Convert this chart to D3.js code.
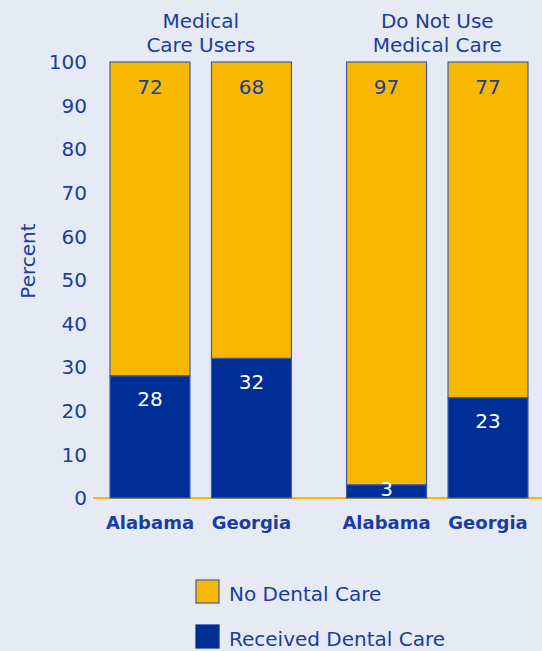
<!DOCTYPE html>
<html>
<head>
<meta charset="utf-8">
<script src="https://cdn.jsdelivr.net/npm/d3@7"></script>
<style>
  html, body { margin: 0; padding: 0; background: #e6eaf5; }
  svg { display: block; font-family: 'DejaVu Sans', sans-serif; }
</style>
</head>
<body>
<div class="chart"></div>
<script>
const groups = ['Medical Care Users', 'Do Not Use Medical Care'];
const groupTitles = [['Medical', 'Care Users'], ['Do Not Use', 'Medical Care']];
const states = ['Alabama', 'Georgia'];
const received = [28, 32, 3, 23];
const noCare = [72, 68, 97, 77];
const yTicks = [0, 10, 20, 30, 40, 50, 60, 70, 80, 90, 100];
const legendLabels = ['No Dental Care', 'Received Dental Care'];

const width = 542;
const height = 651;
const orange = '#f9b800';
const blue = '#002e97';
const textBlue = '#1a3d9e';

const svg = d3.select('.chart')
  .append('svg')
  .attr('width', width)
  .attr('height', height);

const y = d3.scaleLinear([0, 100], [498, 62]);

// outer band = group, inner band = state
const x0 = d3.scaleBand()
  .domain(groups)
  .range([110, 528])
  .paddingInner(0.233)
  .paddingOuter(0);
const x1 = d3.scaleBand()
  .domain(states)
  .range([0, x0.bandwidth()])
  .paddingInner(0.212)
  .paddingOuter(0);

const data = [];
groups.forEach((g, gi) => {
  states.forEach((s, si) => {
    const i = gi * 2 + si;
    data.push({ group: g, state: s, received: received[i], none: noCare[i] });
  });
});
const bx = (d) => x0(d.group) + x1(d.state);

// baseline
svg.append('line')
  .attr('x1', 93).attr('x2', width)
  .attr('y1', y(0)).attr('y2', y(0))
  .attr('stroke', orange)
  .attr('stroke-width', 2);

// y axis labels
svg.append('g')
  .attr('fill', textBlue)
  .style('font-size', '20px')
  .attr('text-anchor', 'end')
  .selectAll('text')
  .data(yTicks)
  .join('text')
  .attr('x', 87)
  .attr('y', (d) => y(d))
  .attr('dy', '0.36em')
  .text((d) => d);

svg.append('text')
  .attr('transform', 'translate(35,261) rotate(-90)')
  .attr('text-anchor', 'middle')
  .attr('fill', textBlue)
  .style('font-size', '20px')
  .text('Percent');

const bar = svg.append('g')
  .selectAll('g')
  .data(data)
  .join('g');

bar.append('rect')
  .attr('x', bx)
  .attr('width', x1.bandwidth())
  .attr('y', (d) => y(100))
  .attr('height', (d) => y(d.received) - y(100))
  .attr('fill', orange)
  .attr('stroke', '#3b5cb0')
  .attr('stroke-width', 1.2);

bar.append('rect')
  .attr('x', bx)
  .attr('width', x1.bandwidth())
  .attr('y', (d) => y(d.received))
  .attr('height', (d) => y(0) - y(d.received))
  .attr('fill', blue)
  .attr('stroke', '#3b5cb0')
  .attr('stroke-width', 1.2);

// value labels
bar.append('text')
  .attr('x', (d) => bx(d) + x1.bandwidth() / 2)
  .attr('y', y(100) + 25)
  .attr('dy', '0.36em')
  .attr('text-anchor', 'middle')
  .attr('fill', textBlue)
  .style('font-size', '20px')
  .text((d) => d.none);

bar.append('text')
  .attr('x', (d) => bx(d) + x1.bandwidth() / 2)
  .attr('y', (d) => Math.min(y(d.received) + 23, y(0) - 9))
  .attr('dy', '0.36em')
  .attr('text-anchor', 'middle')
  .attr('fill', '#fff')
  .style('font-size', '20px')
  .text((d) => d.received);

// state labels
bar.append('text')
  .attr('x', (d) => bx(d) + x1.bandwidth() / 2)
  .attr('y', 529)
  .attr('text-anchor', 'middle')
  .attr('fill', textBlue)
  .style('font-size', '18px')
  .style('font-weight', 'bold')
  .text((d) => d.state);

// group titles
svg.append('g')
  .selectAll('text')
  .data(groups)
  .join('text')
  .attr('x', (g) => x0(g) + x0.bandwidth() / 2)
  .attr('y', 28)
  .attr('text-anchor', 'middle')
  .attr('fill', textBlue)
  .style('font-size', '20px')
  .selectAll('tspan')
  .data((g) => groupTitles[groups.indexOf(g)])
  .join('tspan')
  .attr('x', function() { return d3.select(this.parentNode).attr('x'); })
  .attr('dy', (d, i) => (i === 0 ? 0 : 24))
  .text((d) => d);

// legend
const legend = svg.append('g')
  .selectAll('g')
  .data(legendLabels)
  .join('g')
  .attr('transform', (d, i) => `translate(196,${580 + i * 45})`);

legend.append('rect')
  .attr('width', 23)
  .attr('height', 23)
  .attr('fill', (d, i) => (i === 0 ? orange : blue))
  .attr('stroke', (d, i) => (i === 0 ? '#3b5cb0' : blue))
  .attr('stroke-width', 1.2);

legend.append('text')
  .attr('x', 33)
  .attr('y', 14)
  .attr('dy', '0.36em')
  .attr('fill', textBlue)
  .style('font-size', '20px')
  .text((d) => d);
</script>
</body>
</html>
